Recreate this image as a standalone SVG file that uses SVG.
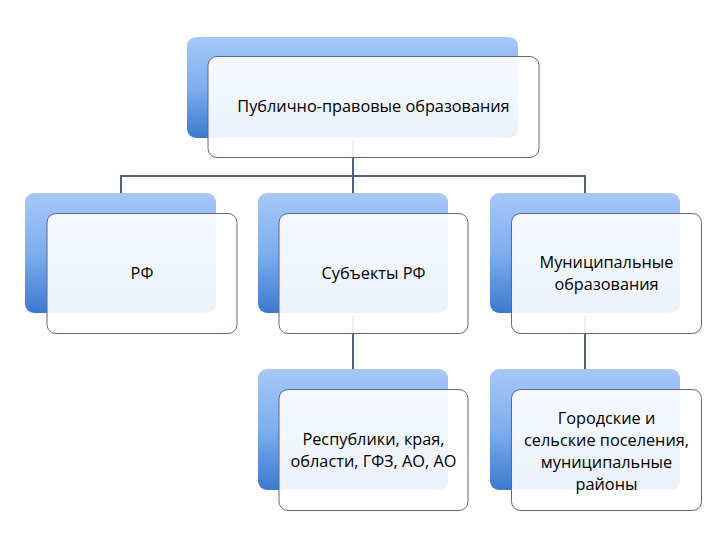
<svg xmlns="http://www.w3.org/2000/svg" width="720" height="540" viewBox="0 0 720 540">
<defs>
<linearGradient id="blue" x1="0" y1="0" x2="0" y2="1">
<stop offset="0" stop-color="#a6c8f8"/>
<stop offset="0.5" stop-color="#7eaeee"/>
<stop offset="1" stop-color="#3c79cf"/>
</linearGradient>
<style>
.back{fill:url(#blue);}
.front{fill:#ffffff;fill-opacity:0.9;stroke:#5c6b7e;stroke-width:1;}
.conn{fill:none;stroke:#4a6287;stroke-width:2;}
text{font-family:"Open Sans","Liberation Sans",sans-serif;font-size:16.3px;fill:#000;text-anchor:middle;}
</style>
</defs>
<rect width="720" height="540" fill="#ffffff"/>
<g id="connectors">
<path class="conn" d="M353,140 V176 M121,176 H585 M121,175 V194 M353,175 V194 M585,175 V194"/>
<path class="conn" d="M353,316 V370"/>
<path class="conn" d="M585,316 V370"/>
</g>
<g id="node-top">
<rect class="back" x="187" y="37" width="331" height="101" rx="9"/>
<rect class="front" x="208" y="56.5" width="331" height="101" rx="9"/>
<text x="373.5" y="112">Публично-правовые образования</text>
</g>
<g id="node-rf">
<rect class="back" x="25" y="193" width="191" height="120" rx="9"/>
<rect class="front" x="47" y="213.5" width="190" height="120" rx="9"/>
<text x="142" y="279">РФ</text>
</g>
<g id="node-subjects">
<rect class="back" x="258" y="193" width="190" height="120" rx="9"/>
<rect class="front" x="279" y="213.5" width="189" height="120" rx="9"/>
<text x="373.5" y="279">Субъекты РФ</text>
</g>
<g id="node-municipal">
<rect class="back" x="490" y="193" width="190" height="120" rx="9"/>
<rect class="front" x="511.5" y="213.5" width="190" height="120" rx="9"/>
<text x="606.5" y="268">Муниципальные</text>
<text x="606.5" y="290">образования</text>
</g>
<g id="node-republics">
<rect class="back" x="258" y="369" width="190" height="121" rx="9"/>
<rect class="front" x="279" y="389.5" width="189" height="121" rx="9"/>
<text x="373.5" y="445">Республики, края,</text>
<text x="373.5" y="467">области, ГФЗ, АО, АО</text>
</g>
<g id="node-settlements">
<rect class="back" x="490" y="369" width="190" height="121" rx="9"/>
<rect class="front" x="511.5" y="389.5" width="190" height="121" rx="9"/>
<text x="606.5" y="424">Городские и</text>
<text x="606.5" y="446">сельские поселения,</text>
<text x="606.5" y="468">муниципальные</text>
<text x="606.5" y="490">районы</text>
</g>
</svg>
